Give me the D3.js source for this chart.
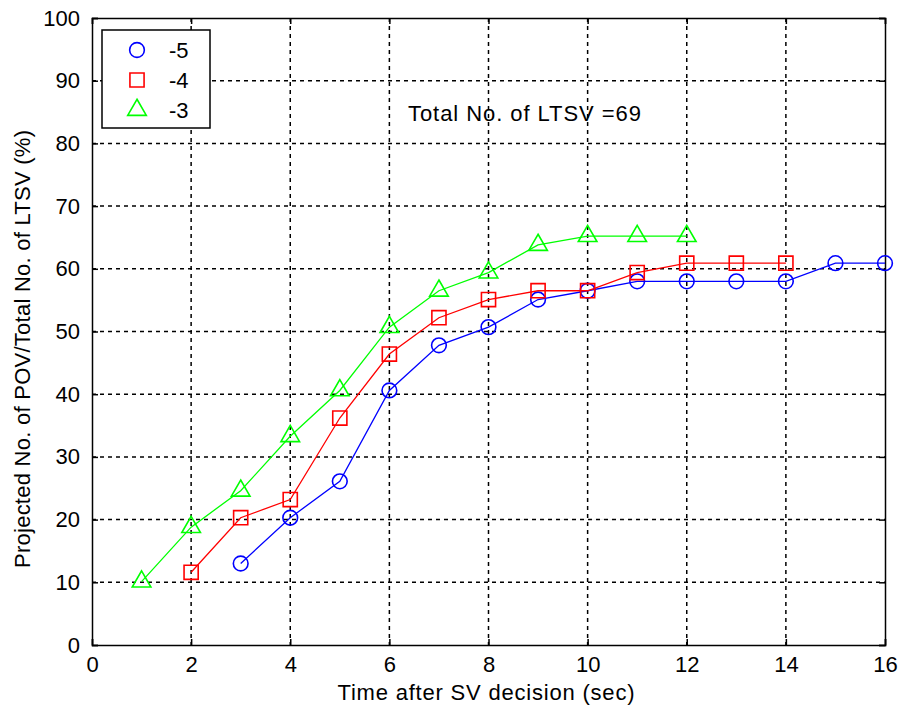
<!DOCTYPE html>
<html><head><meta charset="utf-8">
<script src="https://cdn.jsdelivr.net/npm/d3@7"></script>
<style>body{margin:0;background:#fff}</style>
</head><body>
<svg id="c" width="899" height="713"></svg>
<script>
const xTicks = [0,2,4,6,8,10,12,14,16];
const yTicks = [0,10,20,30,40,50,60,70,80,90,100];
const seriesNames = ["-5","-4","-3"];
const seriesColors = ["#0000ff","#ff0000","#00ff00"];
const seriesSymbols = ["circle","square","triangle"];
const xM5 = [3,4,5,6,7,8,9,10,11,12,13,14,15,16];
const yM5 = [13.0,20.3,26.1,40.6,47.8,50.7,55.1,56.5,58.0,58.0,58.0,58.0,60.9,60.9];
const xM4 = [2,3,4,5,6,7,8,9,10,11,12,13,14];
const yM4 = [11.6,20.3,23.2,36.2,46.4,52.2,55.1,56.5,56.5,59.4,60.9,60.9,60.9];
const xM3 = [1,2,3,4,5,6,7,8,9,10,11,12];
const yM3 = [10.1,18.8,24.6,33.3,40.6,50.7,56.5,59.4,63.8,65.2,65.2,65.2];
const annotation = "Total No. of LTSV =69";
const xLabel = "Time after SV decision (sec)";
const yLabel = "Projected No. of POV/Total No. of LTSV (%)";

const series = [
  {x:xM5,y:yM5},{x:xM4,y:yM4},{x:xM3,y:yM3}
];

const svg = d3.select("#c");
const L=92,R=885,T=18,B=645;
const x = d3.scaleLinear().domain([0,16]).range([L,R]);
const y = d3.scaleLinear().domain([0,100]).range([B,T]);
const font = "Liberation Sans, Arial, sans-serif";
const FS = 22;

// grid
const g = svg.append("g");
g.selectAll(".gx").data(xTicks.slice(1,-1)).enter().append("line")
  .attr("x1",d=>x(d)).attr("x2",d=>x(d)).attr("y1",T).attr("y2",B)
  .attr("stroke","#000").attr("stroke-width",1.5).attr("stroke-dasharray","4,4");
g.selectAll(".gy").data(yTicks.slice(1,-1)).enter().append("line")
  .attr("y1",d=>y(d)).attr("y2",d=>y(d)).attr("x1",L).attr("x2",R)
  .attr("stroke","#000").attr("stroke-width",1.5).attr("stroke-dasharray","4,4");

// axes with inward ticks
const ax = svg.append("g").attr("font-family",font);
const xb = d3.axisBottom(x).tickValues(xTicks).tickSize(-6).tickPadding(11);
const xt = d3.axisTop(x).tickValues(xTicks).tickSize(-6).tickFormat("");
const yl = d3.axisLeft(y).tickValues(yTicks).tickSize(-6).tickPadding(12);
const yr = d3.axisRight(y).tickValues(yTicks).tickSize(-6).tickFormat("");
ax.append("g").attr("transform",`translate(0,${B})`).call(xb);
ax.append("g").attr("transform",`translate(0,${T})`).call(xt);
ax.append("g").attr("transform",`translate(${L},0)`).call(yl);
ax.append("g").attr("transform",`translate(${R},0)`).call(yr);
ax.selectAll(".domain").attr("stroke","#000").attr("stroke-width",1.5);
ax.selectAll(".tick line").attr("stroke","#000").attr("stroke-width",1.5);
ax.selectAll(".tick text").attr("font-size",FS).attr("font-family",font).attr("fill","#000");

// series
const symType = {circle:d3.symbolCircle, square:d3.symbolSquare, triangle:d3.symbolTriangle};
const symSize = {circle:170, square:200, triangle:150};
series.forEach((s,i)=>{
  const pts = s.x.map((xv,j)=>[xv,s.y[j]]);
  svg.append("path").datum(pts)
    .attr("d",d3.line().x(d=>x(d[0])).y(d=>y(d[1])))
    .attr("fill","none").attr("stroke",seriesColors[i]).attr("stroke-width",1.3);
  svg.selectAll(null).data(pts).enter().append("path")
    .attr("transform",d=>`translate(${x(d[0])},${y(d[1])})`)
    .attr("d",d3.symbol().type(symType[seriesSymbols[i]]).size(symSize[seriesSymbols[i]]))
    .attr("fill","none").attr("stroke",seriesColors[i]).attr("stroke-width",1.6);
});

// legend
const lg = svg.append("g");
lg.append("rect").attr("x",102).attr("y",30).attr("width",108).attr("height",98)
  .attr("fill","#fff").attr("stroke","#000").attr("stroke-width",1.5);
seriesNames.forEach((n,i)=>{
  const cy = 50 + i*30;
  lg.append("path").attr("transform",`translate(137,${cy})`)
    .attr("d",d3.symbol().type(symType[seriesSymbols[i]]).size(symSize[seriesSymbols[i]]))
    .attr("fill","none").attr("stroke",seriesColors[i]).attr("stroke-width",1.6);
  lg.append("text").attr("x",169).attr("y",cy+8).text(n)
    .attr("font-family",font).attr("font-size",FS);
});

svg.append("text").attr("x",408).attr("y",121).text(annotation)
  .attr("font-family",font).attr("font-size",FS).attr("textLength",233);
svg.append("text").attr("x",486).attr("y",700).attr("text-anchor","middle")
  .text(xLabel).attr("font-family",font).attr("font-size",FS).attr("textLength",297);
svg.append("text").attr("transform",`translate(30,349) rotate(-90)`)
  .attr("text-anchor","middle").text(yLabel).attr("font-family",font).attr("font-size",FS)
  .attr("textLength",438);
</script>
</body></html>
